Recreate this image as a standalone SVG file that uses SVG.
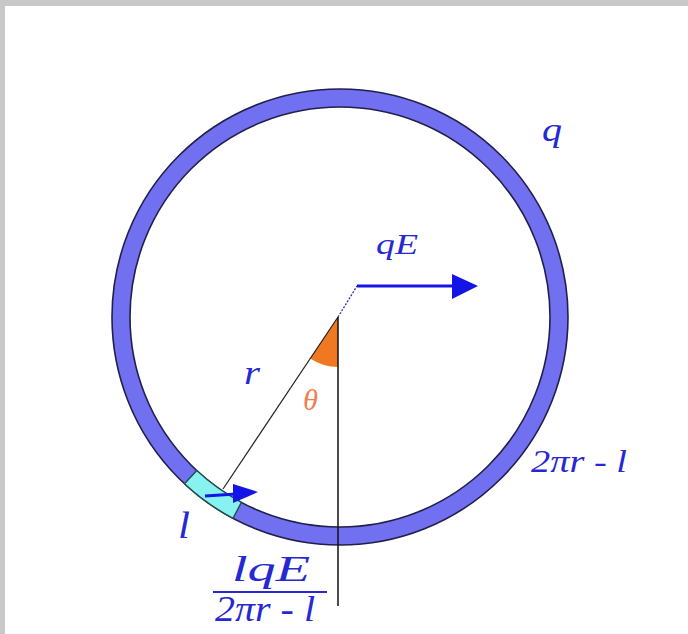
<svg xmlns="http://www.w3.org/2000/svg" width="688" height="634" viewBox="0 0 688 634">
<style>
.lbl{font-family:"Liberation Serif","Times New Roman",serif;font-style:italic;fill:#2828d2}
.outline{fill:none;stroke:#20204a;stroke-width:1.6}
.arrow{stroke:#1414e6;stroke-width:3;fill:none}
.head{fill:#1414e6}
</style>
<rect x="0" y="0" width="688" height="634" fill="#c8c8c8"/>
<rect x="5" y="6" width="683" height="628" fill="#ffffff"/>
<g id="ring">
<circle cx="340" cy="317" r="219" fill="none" stroke="#7070f0" stroke-width="18"/>
<circle class="outline" cx="340" cy="317" r="228"/>
<circle class="outline" cx="340" cy="317" r="210"/>
</g>
<g id="segment">
<path d="M241.4 502.4 L233 518.3 A228 228 0 0 1 184.5 483.8 L196.8 470.6 A210 210 0 0 0 241.4 502.4 Z" fill="#88f2f0" stroke="#20504a" stroke-width="1.4"/>
</g>
<g id="angle">
<path d="M338 317 L338 367 A50 50 0 0 1 310.2 358.5 Z" fill="#f07822"/>
</g>
<g id="connectors">
<line x1="338" y1="317" x2="223" y2="489" stroke="#222" stroke-width="1.2"/>
<line x1="338" y1="317" x2="338" y2="606" stroke="#111" stroke-width="1.5"/>
<line x1="338" y1="317" x2="357" y2="286" stroke="#3030b0" stroke-width="1.3" stroke-dasharray="2,1.5"/>
<line class="arrow" x1="357" y1="286" x2="455" y2="286"/>
<polygon class="head" points="452,274 478,286 452,299"/>
<line class="arrow" x1="205" y1="496" x2="236" y2="494"/>
<polygon class="head" points="233,484 258,492 233,503"/>
<line x1="213" y1="592" x2="327" y2="592" stroke="#2828d2" stroke-width="2"/>
</g>
<g id="labels">
<text class="lbl" x="542" y="141" font-size="34" textLength="20" lengthAdjust="spacingAndGlyphs">q</text>
<text class="lbl" x="376" y="254" font-size="30" textLength="42" lengthAdjust="spacingAndGlyphs">qE</text>
<text class="lbl" x="244" y="384" font-size="34" textLength="16" lengthAdjust="spacingAndGlyphs">r</text>
<text x="303" y="410" font-size="30" font-family="Liberation Serif, serif" font-style="italic" fill="#f08050" textLength="15" lengthAdjust="spacingAndGlyphs">θ</text>
<text class="lbl" x="531" y="472" font-size="32" textLength="96" lengthAdjust="spacingAndGlyphs">2πr - l</text>
<text class="lbl" x="178" y="538" font-size="38" textLength="12" lengthAdjust="spacingAndGlyphs">l</text>
<text class="lbl" x="232" y="581" font-size="36" textLength="78" lengthAdjust="spacingAndGlyphs">lqE</text>
<text class="lbl" x="215" y="621" font-size="36" textLength="100" lengthAdjust="spacingAndGlyphs">2πr - l</text>
</g>
</svg>
